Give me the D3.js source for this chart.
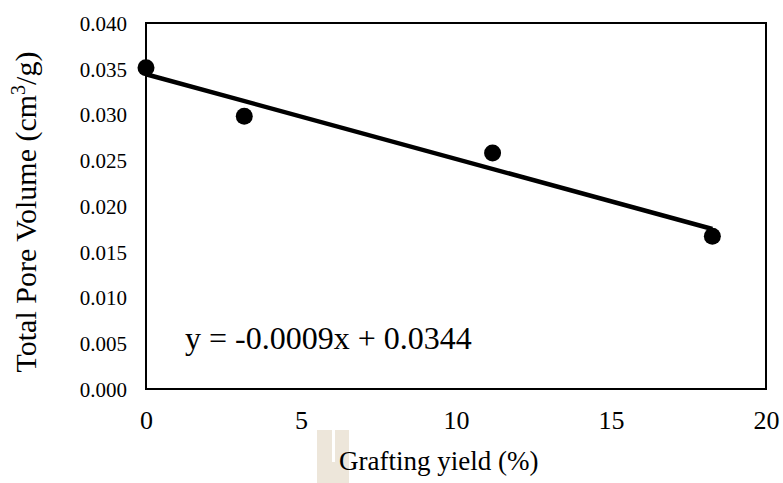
<!DOCTYPE html>
<html>
<head>
<meta charset="utf-8">
<script src="https://cdn.jsdelivr.net/npm/d3@7"></script>
<style>
  body { margin: 0; background: #fff; }
  svg { display: block; }
  text { font-family: "Liberation Serif", "Times New Roman", serif; fill: #000; }
</style>
</head>
<body>
<svg width="783" height="483"></svg>
<script>
// grafting yield (%) vs total pore volume (cm3/g)
var graftYield = [0, 3.17, 11.18, 18.27];
var poreVolume = [0.0351, 0.0298, 0.0258, 0.0167];
var xTicks = [0, 5, 10, 15, 20];
var yTicks = [0, 0.005, 0.010, 0.015, 0.020, 0.025, 0.030, 0.035, 0.040];
var eqLabel = "y = -0.0009x + 0.0344";

var svg = d3.select("svg");
var margin = {"top": 23, "left": 146, "right": 17, "bottom": 94};
var width = +svg.attr("width") - margin.left - margin.right;
var height = +svg.attr("height") - margin.top - margin.bottom;

var x = d3.scaleLinear().domain([0, 20]).range([0, width]),
    y = d3.scaleLinear().domain([0, 0.04]).range([height, 0]);

// watermark remnant under the x title
svg.append("rect").attr("x", 317).attr("y", 430).attr("width", 32).attr("height", 53).attr("fill", "#ede6da");
svg.append("rect").attr("x", 332).attr("y", 430).attr("width", 3).attr("height", 32).attr("fill", "#fff");

var container = svg.append("g")
    .attr("transform", "translate(" + margin.left + "," + margin.top + ")");

// Y axis
var yAxis = container.append("g")
    .call(d3.axisLeft(y).tickValues(yTicks).tickSize(0).tickPadding(19).tickFormat(d3.format(".3f")));
yAxis.select(".domain").remove();
yAxis.selectAll("text").style("font-size", "21px").attr("dy", "0.35em");

// X axis
var xAxis = container.append("g")
    .attr("transform", "translate(0," + height + ")")
    .call(d3.axisBottom(x).tickValues(xTicks).tickSize(0).tickPadding(22));
xAxis.select(".domain").remove();
xAxis.selectAll("text").style("font-size", "26px");

// plot border
container.append("rect")
    .attr("width", width).attr("height", height)
    .attr("fill", "none").attr("stroke", "#000").attr("stroke-width", 2);

// least squares trendline
var mx = d3.mean(graftYield), my = d3.mean(poreVolume);
var sxy = d3.sum(graftYield, function(d, i) { return (d - mx) * (poreVolume[i] - my); });
var sxx = d3.sum(graftYield, function(d) { return (d - mx) * (d - mx); });
var slope = sxy / sxx, icpt = my - slope * mx;
var xEnds = [d3.min(graftYield), d3.max(graftYield)];

container.append("line")
    .attr("x1", x(xEnds[0])).attr("y1", y(icpt + slope * xEnds[0]))
    .attr("x2", x(xEnds[1])).attr("y2", y(icpt + slope * xEnds[1]))
    .attr("stroke", "#000").attr("stroke-width", 4.5);

// points
container.selectAll(".dot")
    .data(graftYield)
  .enter().append("circle")
    .attr("class", "dot")
    .attr("cx", function(d) { return x(d); })
    .attr("cy", function(d, i) { return y(poreVolume[i]); })
    .attr("r", 8.5)
    .attr("fill", "#000");

// equation
container.append("text")
    .attr("x", 39).attr("y", 326)
    .style("font-size", "32px")
    .text(eqLabel);

// axis titles
svg.append("text")
    .attr("x", 339).attr("y", 470)
    .style("font-size", "27px")
    .text("Grafting yield (%)");

var yt = svg.append("text")
    .attr("transform", "translate(36,212) rotate(-90)")
    .attr("text-anchor", "middle")
    .style("font-size", "30px");
yt.append("tspan").text("Total Pore Volume (cm");
yt.append("tspan").attr("dy", -11).style("font-size", "20px").text("3");
yt.append("tspan").attr("dy", 11).text("/g)");
</script>
</body>
</html>
